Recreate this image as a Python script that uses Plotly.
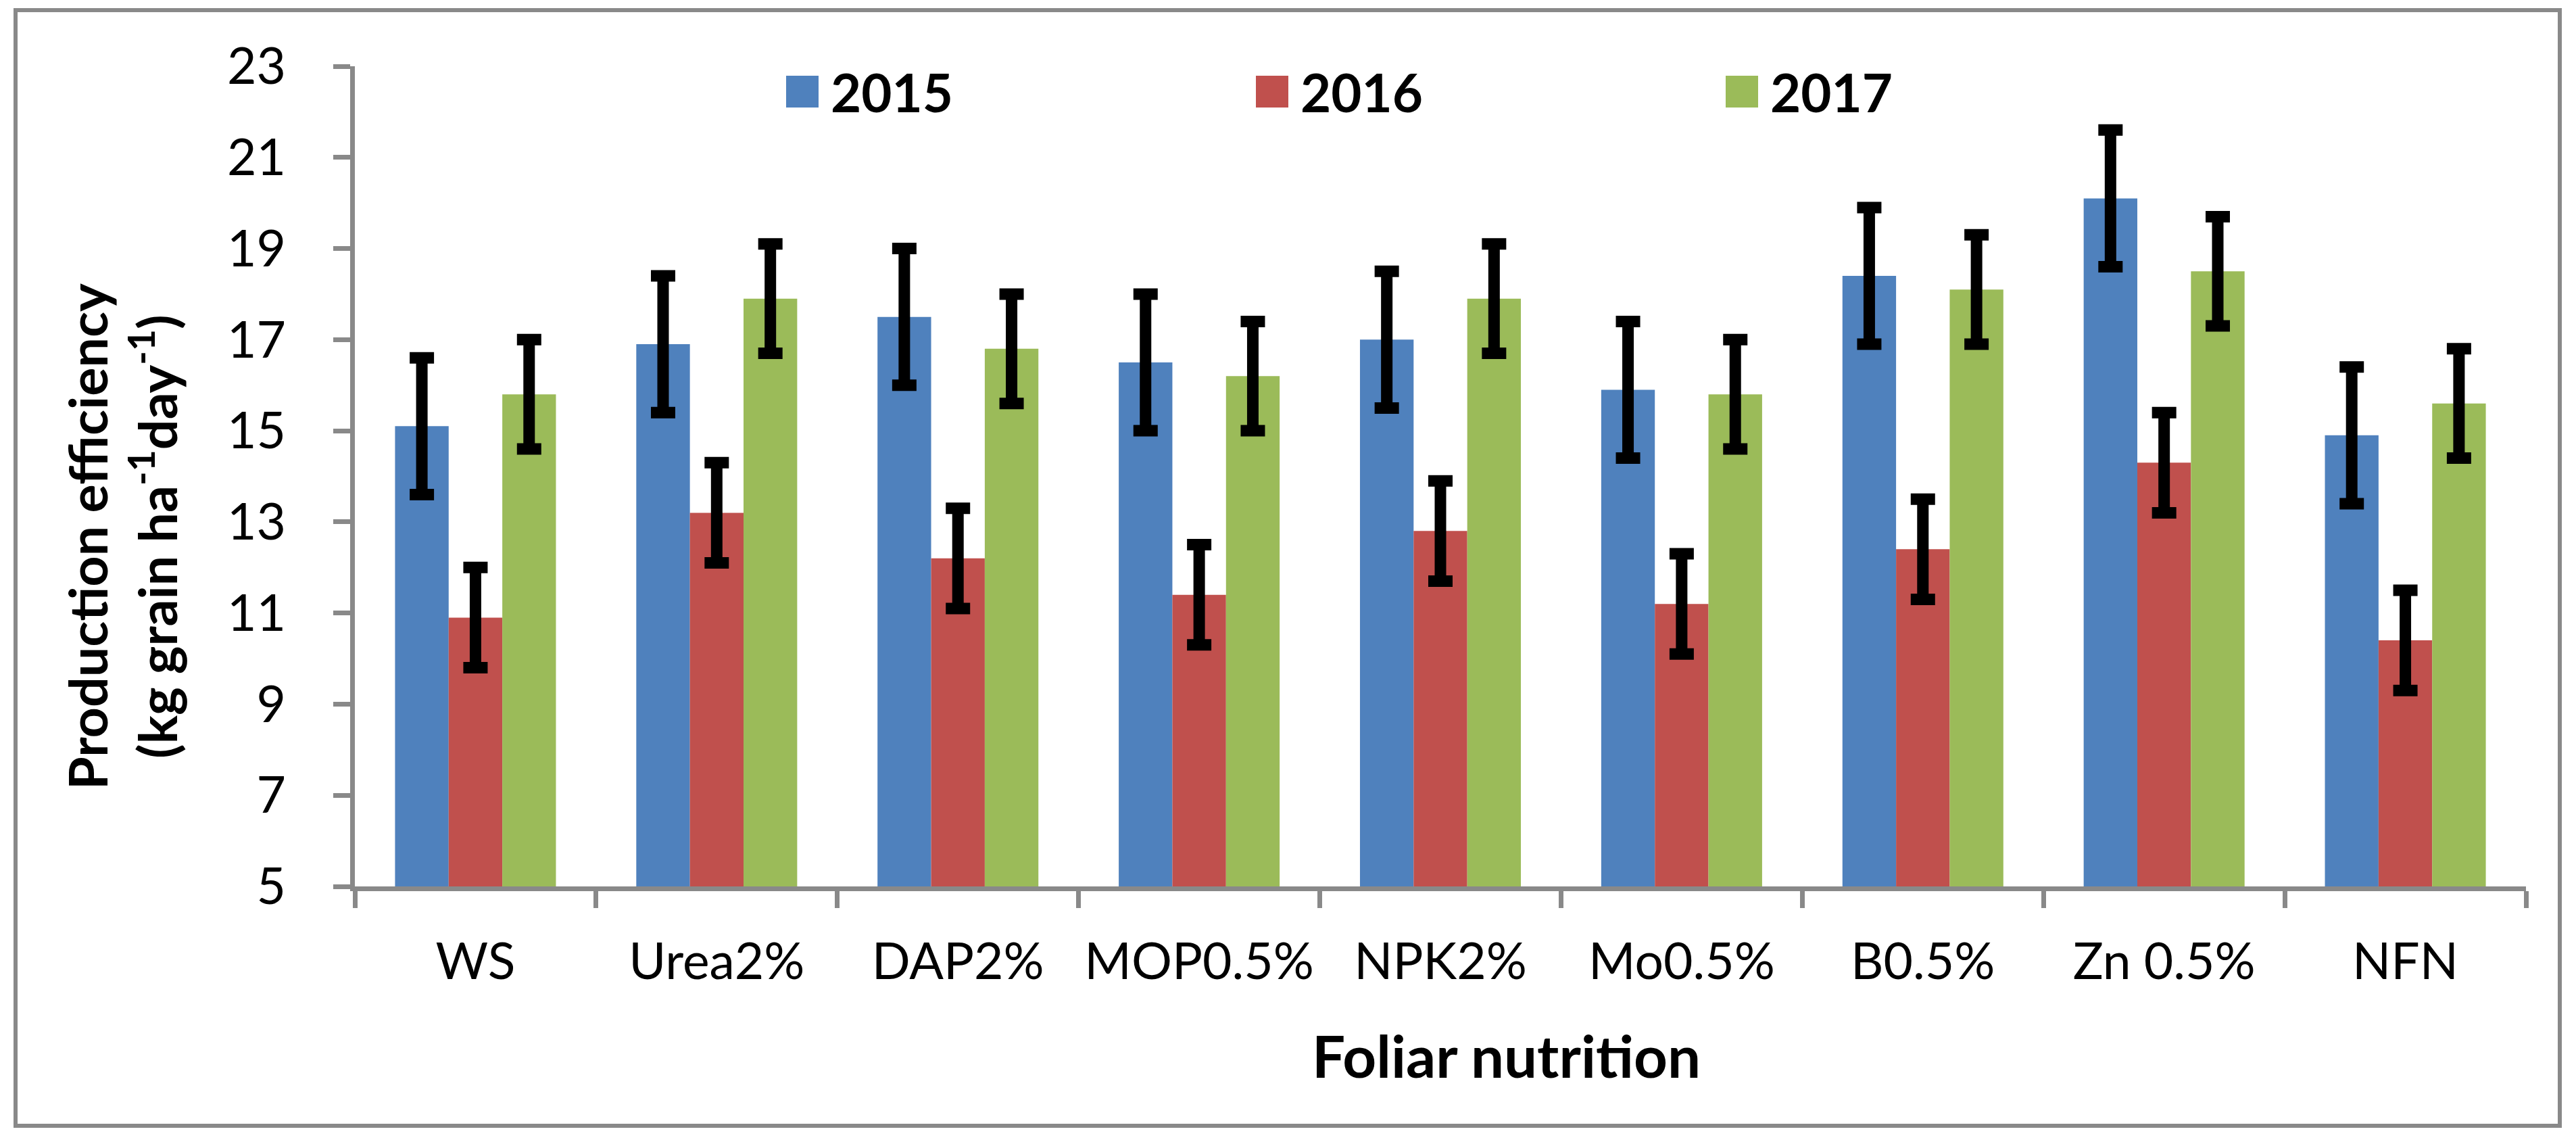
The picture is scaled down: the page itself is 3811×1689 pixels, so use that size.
import plotly.graph_objects as go

# ---- data ----
categories = ["WS", "Urea2%", "DAP2%", "MOP0.5%", "NPK2%", "Mo0.5%", "B0.5%", "Zn 0.5%", "NFN"]
years = ["2015", "2016", "2017"]
pe_2015 = [15.1, 16.9, 17.5, 16.5, 17.0, 15.9, 18.4, 20.1, 14.9]
pe_2016 = [10.9, 13.2, 12.2, 11.4, 12.8, 11.2, 12.4, 14.3, 10.4]
pe_2017 = [15.8, 17.9, 16.8, 16.2, 17.9, 15.8, 18.1, 18.5, 15.6]
err_2015 = [1.5, 1.5, 1.5, 1.5, 1.5, 1.5, 1.5, 1.5, 1.5]
err_2016 = [1.1, 1.1, 1.1, 1.1, 1.1, 1.1, 1.1, 1.1, 1.1]
err_2017 = [1.2, 1.2, 1.2, 1.2, 1.2, 1.2, 1.2, 1.2, 1.2]
y_ticks = [5, 7, 9, 11, 13, 15, 17, 19, 21, 23]

colors = ["#4F81BD", "#C0504D", "#9BBB59"]
values = [pe_2015, pe_2016, pe_2017]
errors = [err_2015, err_2016, err_2017]

W, H = 3811, 1689
L, R, T, B = 525, 74, 98, 378
PW, PH = W - L - R, H - T - B

def px_x(p):
    return (p - L) / PW

def px_y(p):
    return (H - B - p) / PH

FONT = "Lato"
GRAY = "#898989"

fig = go.Figure()
for name, vals, errs, col in zip(years, values, errors, colors):
    fig.add_trace(go.Bar(
        x=categories, y=vals, name=name,
        marker=dict(color=col, line=dict(width=0)),
        error_y=dict(type="data", array=errs, visible=True,
                     color="black", thickness=17, width=18),
        showlegend=False,
    ))

# manual legend (large square keys like the original)
shapes = []
annotations = []
leg_square_left = [1163, 1858, 2553]
for name, col, x0 in zip(years, colors, leg_square_left):
    shapes.append(dict(type="rect", xref="paper", yref="paper",
                       x0=px_x(x0), x1=px_x(x0 + 48),
                       y0=px_y(159), y1=px_y(112),
                       fillcolor=col, line=dict(width=0)))
    annotations.append(dict(text="<b>%s</b>" % name, xref="paper", yref="paper",
                            x=px_x(x0 + 64), y=px_y(136), xanchor="left", yanchor="middle",
                            showarrow=False, font=dict(family=FONT, size=78, color="black")))

# outer chart border
shapes.append(dict(type="rect", xref="paper", yref="paper",
                   x0=px_x(23), x1=px_x(3787), y0=px_y(1665), y1=px_y(15),
                   line=dict(color=GRAY, width=6), fillcolor="rgba(0,0,0,0)", layer="below"))

# axis titles
annotations.append(dict(
    text="<b>Production efficiency<br>(kg grain ha<sup>-1</sup>day<sup>-1</sup>)</b>",
    xref="paper", yref="paper", x=px_x(180), y=px_y(794),
    xanchor="center", yanchor="middle", textangle=-90, showarrow=False,
    font=dict(family=FONT, size=79, color="black")))
annotations.append(dict(
    text="<b>Foliar nutrition</b>", xref="paper", yref="paper",
    x=px_x(2228), y=px_y(1560), xanchor="center", yanchor="middle", showarrow=False,
    font=dict(family=FONT, size=87, color="black")))

fig.update_layout(
    width=W, height=H, autosize=False,
    margin=dict(l=L, r=R, t=T, b=B, pad=0),
    paper_bgcolor="white", plot_bgcolor="white",
    barmode="group", bargap=0.333, bargroupgap=0,
    shapes=shapes, annotations=annotations,
    showlegend=False,
    font=dict(family=FONT, color="black"),
)
fig.update_xaxes(
    type="category", showline=True, linecolor=GRAY, linewidth=7,
    ticks="outside", ticklen=25, tickwidth=7, tickcolor=GRAY,
    tickson="boundaries", showgrid=False, zeroline=False,
    tickfont=dict(family=FONT, size=75, color="black"), ticklabelstandoff=40,
)
fig.update_yaxes(
    range=[5, 23], tickvals=y_ticks, showline=True, linecolor=GRAY, linewidth=7,
    ticks="outside", ticklen=25, tickwidth=7, tickcolor=GRAY,
    showgrid=False, zeroline=False,
    tickfont=dict(family=FONT, size=75, color="black"), ticklabelstandoff=55,
)

fig.write_html("out.html",
               config={"displayModeBar": False},
               post_script="document.body.style.margin='0';document.body.style.overflow='hidden';")
